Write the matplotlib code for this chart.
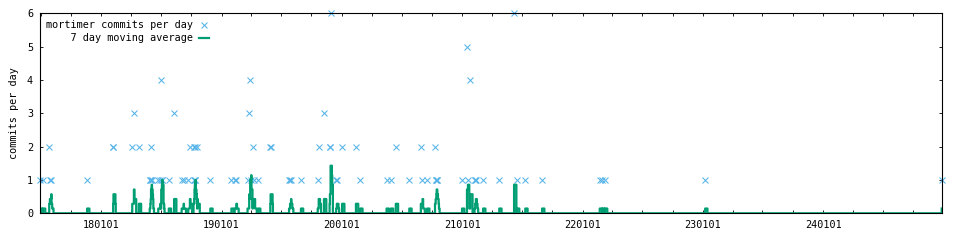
import matplotlib
matplotlib.use('Agg')
import matplotlib.pyplot as plt
import matplotlib.dates as mdates
import pandas as pd

# ------------------------------------------------------------------------------
# commits per day
commit_dates = [
    '2017-06-29', '2017-07-08', '2017-07-27', '2017-07-29', '2017-08-02',
    '2017-11-19',
    '2018-02-06', '2018-02-07', '2018-04-05', '2018-04-10', '2018-04-25',
    '2018-05-28', '2018-05-30', '2018-05-31', '2018-06-01', '2018-06-03',
    '2018-06-23', '2018-06-29', '2018-07-02', '2018-07-04', '2018-07-05',
    '2018-07-25', '2018-08-10', '2018-09-02', '2018-09-08', '2018-09-22',
    '2018-09-27', '2018-10-08', '2018-10-10', '2018-10-11', '2018-10-12',
    '2018-10-14', '2018-10-20', '2018-11-28',
    '2019-01-31', '2019-02-10', '2019-02-15', '2019-03-21', '2019-03-26',
    '2019-03-29', '2019-04-01', '2019-04-06', '2019-04-11', '2019-04-22',
    '2019-05-29', '2019-05-30', '2019-07-25', '2019-07-28', '2019-07-31',
    '2019-08-30', '2019-10-20', '2019-10-23', '2019-11-08', '2019-11-25',
    '2019-11-26', '2019-11-28', '2019-12-15', '2019-12-17',
    '2020-01-02', '2020-02-13', '2020-02-26', '2020-05-16', '2020-05-29',
    '2020-06-13', '2020-07-24', '2020-08-28', '2020-09-02', '2020-09-16',
    '2020-10-10', '2020-10-12', '2020-10-14', '2020-10-15', '2020-10-17',
    '2020-12-31',
    '2021-01-15', '2021-01-18', '2021-01-25', '2021-02-07', '2021-02-09',
    '2021-02-11', '2021-03-05', '2021-04-23', '2021-06-07', '2021-06-16',
    '2021-07-11', '2021-08-31',
    '2022-02-22', '2022-03-02', '2022-03-10',
    '2023-01-08',
    '2024-12-26',
]
commit_counts = [
    1, 1, 2, 1, 1,
    1,
    2, 2, 2, 3, 2,
    1, 1, 1, 2, 1,
    1, 1, 4, 1, 1,
    1, 3, 1, 1, 1,
    2, 2, 1, 2, 1,
    1, 2, 1,
    1, 1, 1, 1, 3,
    4, 1, 2, 1, 1,
    2, 2, 1, 1, 1,
    1, 1, 2, 3, 2,
    2, 6, 1, 1,
    2, 2, 1, 1, 1,
    2, 1, 2, 1, 1,
    2, 1, 1, 1, 1,
    1,
    5, 1, 4, 1, 1,
    1, 1, 1, 6, 1,
    1, 1,
    1, 1, 1,
    1,
    1,
]
window = 7
Linewidth = 1.6

commits = pd.Series(commit_counts, index=pd.to_datetime(commit_dates))

# daily series (zeros on days without commits) -> trailing 7 day average
days = pd.date_range(commits.index.min(), commits.index.max(), freq='D')
daily = commits.reindex(days, fill_value=0)
avg = daily.rolling(window, min_periods=1).sum() / window

plt.rcParams['font.family'] = 'DejaVu Sans Mono'
plt.rcParams['font.size'] = 7.3

fig = plt.figure(figsize=(9.6, 2.4), dpi=100)
ax = fig.add_axes([40/960, 26.7/240, 901.7/960, 200/240])

ax.plot(commits.index, commits.values, linestyle='none', marker='x',
        markersize=4, markeredgewidth=0.75, color='#56b4e9', clip_on=False,
        label='mortimer commits per day')
ax.plot(avg.index, avg.values, color='#009e73', linewidth=Linewidth,
        drawstyle='steps-post', label='    7 day moving average')

ax.set_xlim(days[0], days[-1])
ax.set_ylim(0, 6)
ax.set_yticks(range(0, 7))
ax.xaxis.set_major_locator(mdates.YearLocator())
ax.xaxis.set_minor_locator(mdates.MonthLocator(bymonth=[4, 7, 10]))
ax.xaxis.set_major_formatter(mdates.DateFormatter('%y%m%d'))
ax.tick_params(which='both', direction='in', top=True, right=True,
               length=2.5, width=0.6, pad=5)
for s in ax.spines.values():
    s.set_linewidth(0.8)
ax.set_ylabel('commits per day', labelpad=6)

ax.legend(loc='upper left', bbox_to_anchor=(-0.001, 1.0), frameon=False,
          markerfirst=False, handlelength=1.0, handletextpad=0.6,
          labelspacing=0.3, borderaxespad=0.3)

plt.savefig('out.png', dpi=100)
